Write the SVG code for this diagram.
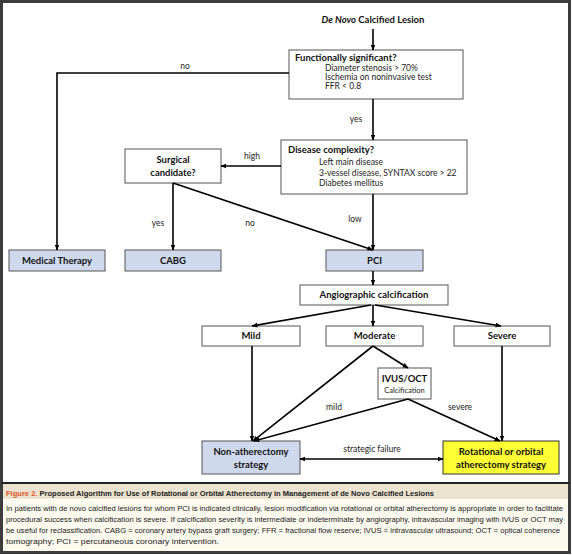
<svg xmlns="http://www.w3.org/2000/svg" width="572" height="555" viewBox="0 0 572 555">
<defs>
<marker id="ah" viewBox="0 0 10 10" refX="9" refY="5" markerWidth="6" markerHeight="6" markerUnits="userSpaceOnUse" orient="auto-start-reverse">
<path d="M0,1 L10,5 L0,9 z" fill="#000"/>
</marker>
<style>
text{font-family:Lato,"Open Sans","Liberation Sans",sans-serif;fill:#111}
.h{font-weight:bold;font-size:9.5px}
.r{font-size:8.5px;fill:#222}
.lb{font-size:8.5px;fill:#222}
.c{text-anchor:middle}
.box{fill:#fff;stroke:#555;stroke-width:1}
.blue{fill:#cfd9ee;stroke:#555;stroke-width:1}
.yel{fill:#ffff33;stroke:#333;stroke-width:1}
.cn{fill:none;stroke:#000;stroke-width:1.6;marker-end:url(#ah)}
.cap{font-family:"Liberation Sans",Arial,sans-serif;font-size:7.6px;fill:#222}
</style>
</defs>
<rect x="1.5" y="1.5" width="568" height="551" fill="#fff" stroke="#3c3c3c" stroke-width="3"/>

<g id="start"><text class="h c" x="373" y="23"><tspan font-style="italic">De Novo</tspan> Calcified Lesion</text></g>

<g id="functional">
<rect class="box" x="289" y="50" width="174" height="49"/>
<text class="h" x="295" y="61">Functionally significant?</text>
<text class="r" x="325" y="71">Diameter stenosis &gt; 70%</text>
<text class="r" x="325" y="80">Ischemia on noninvasive test</text>
<text class="r" x="325" y="89">FFR &lt; 0.8</text>
</g>

<g id="complexity">
<rect class="box" x="281" y="140" width="186" height="54"/>
<text class="h" x="288" y="153">Disease complexity?</text>
<text class="r" x="319" y="165">Left main disease</text>
<text class="r" x="319" y="176">3-vessel disease, SYNTAX score &gt; 22</text>
<text class="r" x="319" y="186">Diabetes mellitus</text>
</g>

<g id="surgical">
<rect class="box" x="125" y="149" width="96" height="34"/>
<text class="h c" x="173" y="163">Surgical</text>
<text class="h c" x="173" y="176">candidate?</text>
</g>

<g id="medical"><rect class="blue" x="9" y="250" width="96" height="21"/><text class="h c" x="57" y="264">Medical Therapy</text></g>
<g id="cabg"><rect class="blue" x="125" y="250" width="96" height="21"/><text class="h c" x="173" y="264">CABG</text></g>
<g id="pci"><rect class="blue" x="326" y="250" width="97" height="21"/><text class="h c" x="374.5" y="264">PCI</text></g>

<g id="angio"><rect class="box" x="300" y="285" width="148" height="20"/><text class="h c" x="374" y="298">Angiographic calcification</text></g>

<g id="mild"><rect class="box" x="202" y="326" width="98" height="20"/><text class="h c" x="251" y="339">Mild</text></g>
<g id="moderate"><rect class="box" x="326" y="326" width="97" height="20"/><text class="h c" x="374.5" y="339">Moderate</text></g>
<g id="severe"><rect class="box" x="454" y="326" width="96" height="20"/><text class="h c" x="502" y="339">Severe</text></g>

<g id="ivus">
<rect class="box" x="378" y="368" width="53" height="31"/>
<text class="h c" x="404.5" y="382">IVUS/OCT</text>
<text class="c" x="404.5" y="393" style="font-size:7.5px;fill:#222">Calcification</text>
</g>

<g id="nonathero">
<rect class="blue" x="202" y="441" width="98" height="33"/>
<text class="h c" x="251" y="455">Non-atherectomy</text>
<text class="h c" x="251" y="468">strategy</text>
</g>

<g id="rotational">
<rect class="yel" x="443" y="441" width="116" height="33"/>
<text class="h c" x="501" y="455">Rotational or orbital</text>
<text class="h c" x="501" y="468">atherectomy strategy</text>
</g>

<g id="connectors">
<line class="cn" x1="373" y1="29" x2="373" y2="50"/>
<polyline class="cn" points="289,73 57,73 57,250"/>
<line class="cn" x1="373" y1="99" x2="373" y2="140"/>
<line class="cn" x1="281" y1="166" x2="221" y2="166"/>
<line class="cn" x1="173" y1="183" x2="173" y2="250"/>
<line class="cn" x1="173" y1="183" x2="373" y2="250"/>
<line class="cn" x1="373" y1="194" x2="373" y2="250"/>
<line class="cn" x1="373" y1="271" x2="373" y2="285"/>
<line class="cn" x1="371" y1="305" x2="252" y2="326"/>
<line class="cn" x1="373" y1="305" x2="373" y2="326"/>
<line class="cn" x1="375" y1="305" x2="501" y2="326"/>
<line class="cn" x1="373" y1="346" x2="408" y2="368"/>
<line class="cn" x1="373" y1="346" x2="253" y2="441"/>
<line class="cn" x1="252" y1="346" x2="252" y2="441"/>
<line class="cn" x1="408" y1="399" x2="254" y2="441"/>
<line class="cn" x1="408" y1="399" x2="500" y2="441"/>
<line class="cn" x1="502" y1="346" x2="502" y2="441"/>
<line class="cn" x1="300" y1="459" x2="443" y2="459" style="marker-start:url(#ah)"/>
<text class="lb c" x="185" y="69">no</text>
<text class="lb c" x="356" y="122">yes</text>
<text class="lb c" x="252" y="159">high</text>
<text class="lb c" x="158" y="226">yes</text>
<text class="lb c" x="250" y="226">no</text>
<text class="lb c" x="355" y="222">low</text>
<text class="lb c" x="334" y="410">mild</text>
<text class="lb c" x="460" y="410">severe</text>
<text class="lb c" x="372" y="452">strategic failure</text>
</g>

<g id="caption">
<line x1="1.5" y1="483" x2="569.5" y2="483" stroke="#222" stroke-width="2"/>
<rect x="3" y="484" width="565" height="14" fill="#ebe3cf"/>
<rect x="3" y="498" width="565" height="53" fill="#fcf9ef"/>
<line x1="3" y1="498" x2="568" y2="498" stroke="#cfc6ae" stroke-width="0.6"/>
<text class="cap" x="6" y="496" textLength="428" lengthAdjust="spacingAndGlyphs" style="font-weight:bold"><tspan fill="#e2552a">Figure 2.</tspan> Proposed Algorithm for Use of Rotational or Orbital Atherectomy in Management of de Novo Calcified Lesions</text>
<text class="cap" x="6" y="511" textLength="557" lengthAdjust="spacingAndGlyphs">In patients with de novo calcified lesions for whom PCI is indicated clinically, lesion modification via rotational or orbital atherectomy is appropriate in order to facilitate</text>
<text class="cap" x="6" y="522" textLength="557" lengthAdjust="spacingAndGlyphs">procedural success when calcification is severe. If calcification severity is intermediate or indeterminate by angiography, intravascular imaging with IVUS or OCT may</text>
<text class="cap" x="6" y="533" textLength="554" lengthAdjust="spacingAndGlyphs">be useful for reclassification. CABG = coronary artery bypass graft surgery; FFR = fractional flow reserve; IVUS = intravascular ultrasound; OCT = optical coherence</text>
<text class="cap" x="6" y="544" textLength="213" lengthAdjust="spacingAndGlyphs">tomography; PCI = percutaneous coronary intervention.</text>
</g>
</svg>
